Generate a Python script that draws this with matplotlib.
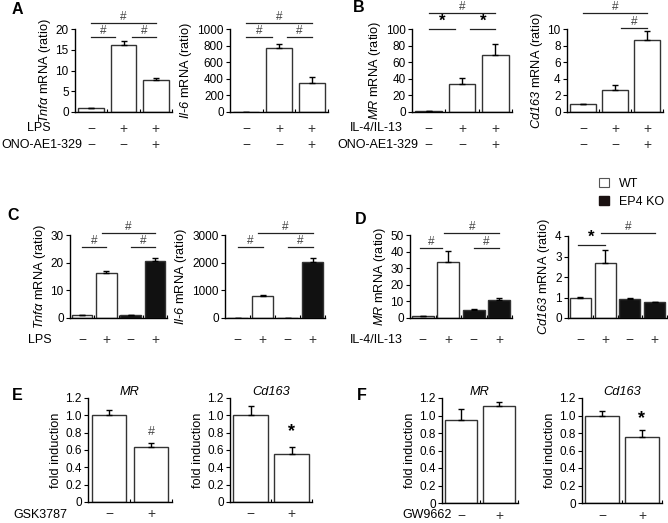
import matplotlib

matplotlib.use("Agg")
import matplotlib.pyplot as plt
import matplotlib.transforms as mtransforms
from matplotlib.patches import Patch
import numpy as np

plt.rcParams["font.family"] = ["Liberation Sans", "DejaVu Sans"]
plt.rcParams["mathtext.fontset"] = "custom"
plt.rcParams["mathtext.rm"] = "Liberation Sans"
# sf slot used for italic gene names (keeps digits italic too)
plt.rcParams["mathtext.sf"] = "Liberation Sans:italic"
plt.rcParams["font.size"] = 9

W, H = 668, 523
FS = 9.2      # axis labels
TFS = 8.5     # tick labels
RFS = 9       # row labels under the plots

# ---- data ----
a_tnf = [1.0, 16.2, 7.6]
a_tnf_err = [0, 1.0, 0.6]
a_il6 = [1, 770, 355]
a_il6_err = [0, 50, 65]
b_mr = [1, 34, 69]
b_mr_err = [0, 7, 13]
b_cd163 = [1.0, 2.7, 8.7]
b_cd163_err = [0, 0.6, 1.0]

c_tnf = [1.0, 16.2, 1.0, 20.7]
c_tnf_err = [0, 0.9, 0, 1.1]
c_il6 = [1, 790, 1, 2040]
c_il6_err = [0, 50, 0, 120]
d_mr = [1, 33.5, 5, 11]
d_mr_err = [0, 7, 0.5, 1.2]
d_cd163 = [1.0, 2.7, 0.93, 0.77]
d_cd163_err = [0.03, 0.6, 0.03, 0.03]

e_mr = [1.0, 0.64]
e_mr_err = [0.06, 0.04]
e_cd163 = [1.0, 0.55]
e_cd163_err = [0.11, 0.09]
f_mr = [0.95, 1.11]
f_mr_err = [0.12, 0.05]
f_cd163 = [1.0, 0.75]
f_cd163_err = [0.05, 0.08]

row_ab_1 = ["−", "+", "+"]
row_ab_2 = ["−", "−", "+"]
row_cd = ["−", "+", "−", "+"]
row_ef = ["−", "+"]

wt_ko_colors = ["white", "white", "#111111", "#111111"]

fig = plt.figure(figsize=(W / 100, H / 100), dpi=100)


def px_text(x, y, s, **kw):
    fig.text(x / W, 1 - y / H, s, **kw)


def bar_panel(box, vals, errs, ylim, yticks, ylabel, colors=None, width=0.8,
              ticklabels=None, title=None):
    x0, y0, x1, y1 = box
    ax = fig.add_axes([x0 / W, 1 - y1 / H, (x1 - x0) / W, (y1 - y0) / H])
    n = len(vals)
    x = np.arange(n)
    if colors is None:
        colors = ["white"] * n
    ax.bar(x, vals, width, color=colors, edgecolor="#333333", linewidth=1, zorder=2)
    ax.errorbar(x, vals, yerr=[np.zeros(n), errs], fmt="none", ecolor="k",
                elinewidth=1, capsize=2, capthick=1, zorder=3)
    ax.set_xlim(-0.5, n - 0.5)
    ax.set_ylim(*ylim)
    ax.set_yticks(yticks)
    if ticklabels is not None:
        ax.set_yticklabels(ticklabels)
    ax.set_xticks([i + 0.5 for i in range(n)])
    ax.set_xticklabels([])
    ax.tick_params(axis="x", direction="in", length=2.5, width=0.8)
    ax.tick_params(axis="y", direction="out", length=3, width=0.8, pad=1.5,
                   labelsize=TFS)
    for s in ["top", "right"]:
        ax.spines[s].set_visible(False)
    for s in ["left", "bottom"]:
        ax.spines[s].set_linewidth(1)
    ax.set_ylabel(ylabel, fontsize=FS, labelpad=2)
    if title:
        ax.set_title(title, fontsize=FS, fontstyle="italic", pad=2)
    return ax


def sign_row(ax, signs, y):
    tr = mtransforms.blended_transform_factory(ax.transData, ax.transAxes)
    for i, s in enumerate(signs):
        ax.text(i, y, s, transform=tr, ha="center", va="center",
                fontsize=10, color="#333333")


def bracket(ax, xa, xb, y, sym, star=False):
    ax.plot([xa, xb], [y, y], color="#222222", lw=0.9, clip_on=False)
    if star:
        ax.text((xa + xb) / 2, y, "*", ha="center", va="bottom",
                fontsize=12, color="k", fontweight="bold")
    else:
        ax.text((xa + xb) / 2, y, sym, ha="center", va="bottom",
                fontsize=8.5, color="#444444")


def mark(ax, x, y, sym, star=False):
    if star:
        ax.text(x, y, "*", ha="center", va="center", fontsize=13, color="k",
                fontweight="bold")
    else:
        ax.text(x, y, sym, ha="center", va="center", fontsize=9, color="#444444")


# ---- panel A ----
ax = bar_panel((75, 29, 172, 112), a_tnf, a_tnf_err, (0, 20), [0, 5, 10, 15, 20],
               r"$\mathsf{Tnfα}$ mRNA (ratio)")
bracket(ax, 0, 0.75, 18.1, "#")
bracket(ax, 1.25, 2, 18.1, "#")
bracket(ax, 0, 2, 21.4, "#")
sign_row(ax, row_ab_1, -0.2)
sign_row(ax, row_ab_2, -0.4)

ax = bar_panel((230, 29, 328, 112), a_il6, a_il6_err, (0, 1000),
               [0, 200, 400, 600, 800, 1000], r"$\mathsf{Il}$-$\mathsf{6}$ mRNA (ratio)")
bracket(ax, 0, 0.8, 905, "#")
bracket(ax, 1.25, 2, 905, "#")
bracket(ax, 0, 2, 1070, "#")
sign_row(ax, row_ab_1, -0.2)
sign_row(ax, row_ab_2, -0.4)

# ---- panel B ----
ax = bar_panel((412, 29, 512, 112), b_mr, b_mr_err, (0, 100),
               [0, 20, 40, 60, 80, 100], r"$\mathsf{MR}$ mRNA (ratio)")
bracket(ax, 0, 0.8, 100.5, "*", star=True)
bracket(ax, 1.25, 2, 100.5, "*", star=True)
bracket(ax, 0, 2, 119, "#")
sign_row(ax, row_ab_1, -0.2)
sign_row(ax, row_ab_2, -0.4)

ax = bar_panel((567, 29, 663, 112), b_cd163, b_cd163_err, (0, 10),
               [0, 2, 4, 6, 8, 10], r"$\mathsf{Cd163}$ mRNA (ratio)")
bracket(ax, 1.2, 2, 10.1, "#")
bracket(ax, 0, 2, 11.9, "#")
sign_row(ax, row_ab_1, -0.2)
sign_row(ax, row_ab_2, -0.4)

px_text(27, 128, "LPS", ha="left", va="center", fontsize=RFS)
px_text(1, 145, "ONO-AE1-329", ha="left", va="center", fontsize=RFS)
px_text(350, 128, "IL-4/IL-13", ha="left", va="center", fontsize=RFS)
px_text(337, 145, "ONO-AE1-329", ha="left", va="center", fontsize=RFS)

# legend
fig.legend(handles=[Patch(facecolor="white", edgecolor="#555555", lw=0.8),
                    Patch(facecolor="#1a1111", edgecolor="#1a1111")],
           labels=["WT", "EP4 KO"], loc="upper left",
           bbox_to_anchor=(593 / W, 1 - 172 / H), frameon=False,
           handlelength=0.75, handleheight=0.75, handletextpad=0.8,
           labelspacing=0.45, fontsize=RFS, borderpad=0)

# ---- panel C ----
ax = bar_panel((70, 235, 167, 318), c_tnf, c_tnf_err, (0, 30), [0, 10, 20, 30],
               r"$\mathsf{Tnfα}$ mRNA (ratio)", colors=wt_ko_colors, width=0.85)
bracket(ax, 0, 1, 25.7, "#")
bracket(ax, 2, 3, 25.7, "#")
bracket(ax, 0.8, 3, 30.7, "#")
sign_row(ax, row_cd, -0.27)

ax = bar_panel((225, 235, 325, 318), c_il6, c_il6_err, (0, 3000),
               [0, 1000, 2000, 3000], r"$\mathsf{Il}$-$\mathsf{6}$ mRNA (ratio)",
               colors=wt_ko_colors, width=0.85)
bracket(ax, 0, 1, 2570, "#")
bracket(ax, 2, 3, 2570, "#")
bracket(ax, 0.8, 3, 3070, "#")
sign_row(ax, row_cd, -0.27)

# ---- panel D ----
ax = bar_panel((410, 235, 512, 318), d_mr, d_mr_err, (0, 50),
               [0, 10, 20, 30, 40, 50], r"$\mathsf{MR}$ mRNA (ratio)",
               colors=wt_ko_colors, width=0.85)
bracket(ax, -0.1, 0.75, 42, "#")
bracket(ax, 2, 3, 42, "#")
bracket(ax, 0.85, 3, 51, "#")
sign_row(ax, row_cd, -0.27)

ax = bar_panel((568, 236, 667, 318), d_cd163, d_cd163_err, (0, 4),
               [0, 1, 2, 3, 4], r"$\mathsf{Cd163}$ mRNA (ratio)",
               colors=wt_ko_colors, width=0.85)
bracket(ax, -0.1, 1, 3.56, "*", star=True)
bracket(ax, 0.85, 3, 4.15, "#")
sign_row(ax, row_cd, -0.27)

px_text(28, 340, "LPS", ha="left", va="center", fontsize=RFS)
px_text(350, 340, "IL-4/IL-13", ha="left", va="center", fontsize=RFS)

# ---- panel E ----
ef_ticks = [0, 0.2, 0.4, 0.6, 0.8, 1.0, 1.2]
ef_labels = ["0", "0.2", "0.4", "0.6", "0.8", "1.0", "1.2"]
ax = bar_panel((88, 398, 172, 502), e_mr, e_mr_err, (0, 1.2), ef_ticks,
               "fold induction", width=0.83, ticklabels=ef_labels, title="MR")
mark(ax, 1, 0.81, "#")
sign_row(ax, row_ef, -0.12)

ax = bar_panel((230, 398, 312, 502), e_cd163, e_cd163_err, (0, 1.2), ef_ticks,
               "fold induction", width=0.83, ticklabels=ef_labels, title="Cd163")
mark(ax, 1, 0.81, "*", star=True)
sign_row(ax, row_ef, -0.12)

# ---- panel F ----
ax = bar_panel((442, 398, 518, 503), f_mr, f_mr_err, (0, 1.2), ef_ticks,
               "fold induction", width=0.83, ticklabels=ef_labels, title="MR")
sign_row(ax, row_ef, -0.12)

ax = bar_panel((582, 398, 662, 503), f_cd163, f_cd163_err, (0, 1.2), ef_ticks,
               "fold induction", width=0.83, ticklabels=ef_labels, title="Cd163")
mark(ax, 1, 0.97, "*", star=True)
sign_row(ax, row_ef, -0.12)

px_text(13, 515, "GSK3787", ha="left", va="center", fontsize=RFS)
px_text(402, 515, "GW9662", ha="left", va="center", fontsize=RFS)

# ---- panel letters ----
for lab, (lx, ly) in {"A": (12, 9), "B": (353, 8), "C": (7, 216),
                      "D": (355, 220), "E": (12, 396), "F": (357, 396)}.items():
    px_text(lx, ly, lab, ha="left", va="center", fontsize=11.5, fontweight="bold")

fig.savefig("out.png", dpi=100, facecolor="white")
plt.close(fig)
